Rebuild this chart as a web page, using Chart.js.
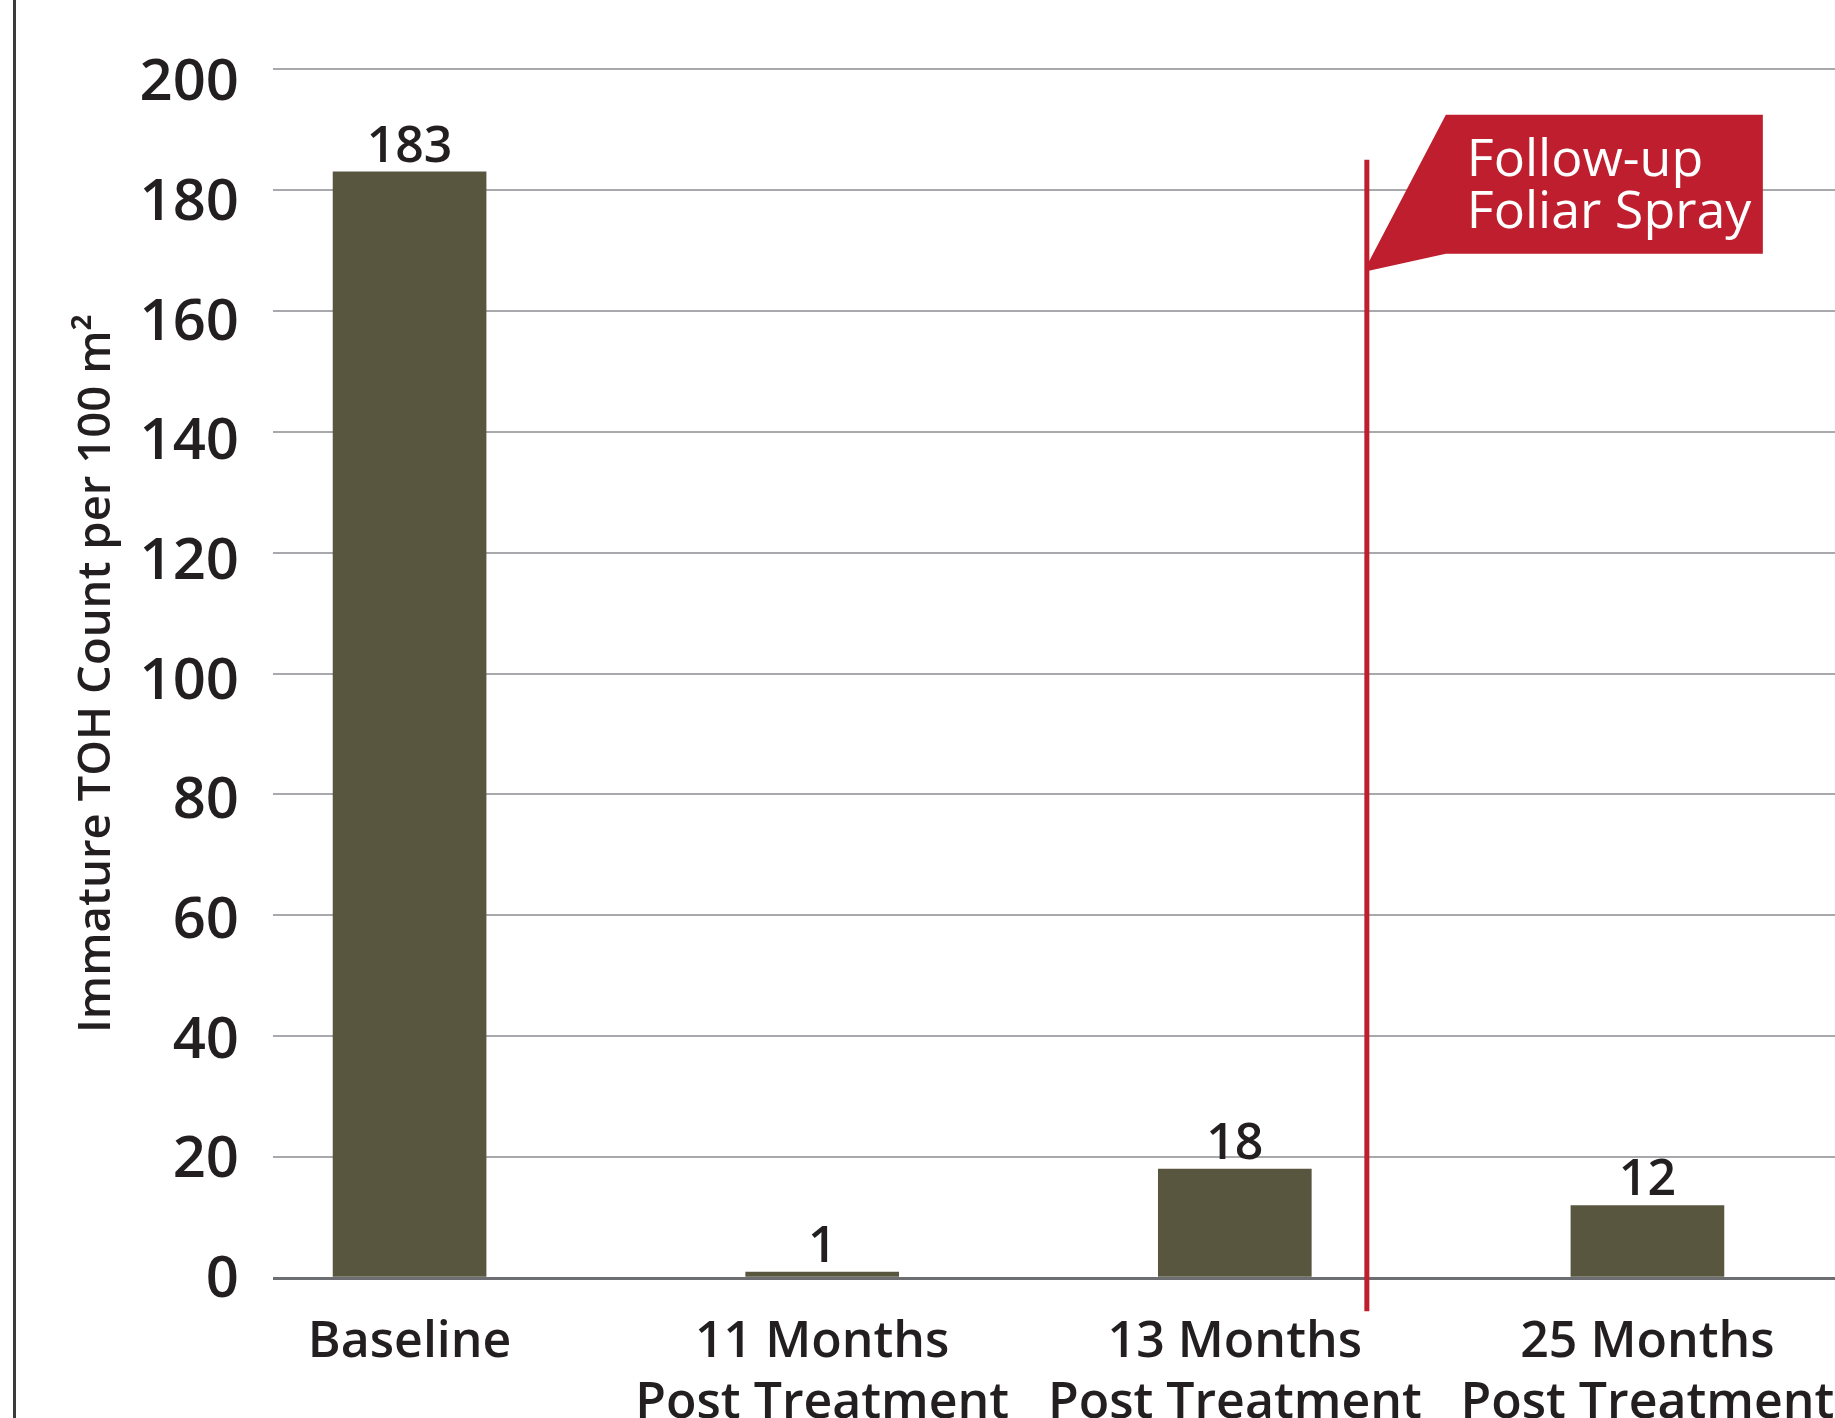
<!DOCTYPE html>
<html>
<head>
<meta charset="utf-8">
<title>Immature TOH Count</title>
<script src="https://cdn.jsdelivr.net/npm/chart.js@4.4.1/dist/chart.umd.min.js"></script>
<style>
  html, body { margin: 0; padding: 0; background: #ffffff; overflow: hidden; }
  canvas { display: block; }
</style>
</head>
<body>
<canvas id="chart" width="1835" height="1418"></canvas>
<script>
// ---- data ----
const categories = [
  ['Baseline'],
  ['11 Months', 'Post Treatment'],
  ['13 Months', 'Post Treatment'],
  ['25 Months', 'Post Treatment']
];
const counts = [183, 1, 18, 12];
const yTicks = [0, 20, 40, 60, 80, 100, 120, 140, 160, 180, 200];
const yTitle = 'Immature TOH Count per 100 m\u00B2';
const followUpText = ['Follow-up', 'Foliar Spray'];
// where the follow-up spray marker sits on the category index axis
const followUpAt = 2.32;
const followUpSpan = [-5.5, 185];

// ---- styles ----
const FONT = '"Open Sans", "Noto Sans", sans-serif';
const INK = '#231f20';
const BAR = '#59563f';
const RED = '#be1e2d';

const framePlugin = {
  id: 'frame',
  beforeDraw(chart) {
    const ctx = chart.ctx;
    ctx.save();
    ctx.fillStyle = '#3b3b3b';
    ctx.fillRect(13, 0, 3, chart.height);
    ctx.restore();
  }
};

const valueLabels = {
  id: 'valueLabels',
  afterDatasetsDraw(chart) {
    const ctx = chart.ctx;
    const meta = chart.getDatasetMeta(0);
    ctx.save();
    ctx.fillStyle = INK;
    ctx.font = '600 50px ' + FONT;
    ctx.textAlign = 'center';
    ctx.textBaseline = 'alphabetic';
    meta.data.forEach((bar, i) => {
      ctx.fillText(String(counts[i]), bar.x, bar.y - 10);
    });
    ctx.restore();
  }
};

const followUpMarker = {
  id: 'followUpMarker',
  afterDraw(chart) {
    const ctx = chart.ctx;
    const xs = chart.scales.x, ys = chart.scales.y;
    const x = xs.getPixelForValue(followUpAt);
    const top = ys.getPixelForValue(followUpSpan[1]);
    const bottom = ys.getPixelForValue(followUpSpan[0]);
    ctx.save();
    ctx.strokeStyle = RED;
    ctx.lineWidth = 5;
    ctx.beginPath();
    ctx.moveTo(x, top);
    ctx.lineTo(x, bottom);
    ctx.stroke();

    // pennant flag
    ctx.fillStyle = RED;
    ctx.beginPath();
    ctx.moveTo(x + 79, top - 45);
    ctx.lineTo(x + 396, top - 45);
    ctx.lineTo(x + 396, top + 94);
    ctx.lineTo(x + 79, top + 94);
    ctx.lineTo(x + 2, top + 111);
    ctx.lineTo(x + 2, top + 102);
    ctx.closePath();
    ctx.fill();

    ctx.fillStyle = '#ffffff';
    ctx.font = '500 52px ' + FONT;
    ctx.textAlign = 'left';
    ctx.textBaseline = 'alphabetic';
    ctx.fillText(followUpText[0], x + 100, top + 16);
    ctx.fillText(followUpText[1], x + 100, top + 68);
    ctx.restore();
  }
};

new Chart(document.getElementById('chart'), {
  type: 'bar',
  data: {
    datasets: [{
      data: counts.map((v, i) => ({ x: i, y: v })),
      backgroundColor: BAR,
      borderWidth: 0,
      barThickness: 153
    }]
  },
  options: {
    responsive: false,
    animation: false,
    events: [],
    layout: { padding: { top: 69, left: 0, right: 0, bottom: 0 } },
    plugins: {
      legend: { display: false },
      tooltip: { enabled: false }
    },
    scales: {
      x: {
        type: 'linear',
        offset: false,
        bounds: 'data',
        min: -0.331,
        max: 3.4546,
        grid: { display: false, offset: false, drawTicks: true, tickLength: 34 },
        border: { display: false },
        afterBuildTicks(scale) {
          scale.ticks = categories.map((_, i) => ({ value: i }));
        },
        afterFit(scale) {
          scale.height = 140;
          scale.paddingLeft = 0;
          scale.paddingRight = 0;
        },
        ticks: {
          autoSkip: false,
          maxRotation: 0,
          minRotation: 0,
          padding: 0,
          color: INK,
          font: { family: FONT, size: 50, weight: '600', lineHeight: 1.22 },
          callback: (value) => categories[value]
        }
      },
      // value axis: carries the bars and the grid
      y: {
        position: 'left',
        min: 0,
        max: 200,
        afterBuildTicks(scale) {
          scale.ticks = yTicks.map(v => ({ value: v }));
        },
        afterFit(scale) {
          scale.width = 0;
          scale.paddingTop = 0;
          scale.paddingBottom = 0;
        },
        grid: {
          drawTicks: false,
          color: (c) => (c.tick && c.tick.value === 0 ? '#6d6e71' : '#a7a9ac'),
          lineWidth: (c) => (c.tick && c.tick.value === 0 ? 3 : 2)
        },
        border: { display: false },
        ticks: { display: false }
      },
      // label axis: the tick numbers sit on a slightly tighter spacing than the grid
      yLabels: {
        position: 'left',
        min: -0.08,
        max: 202.0,
        afterBuildTicks(scale) {
          scale.ticks = yTicks.map(v => ({ value: v }));
        },
        afterFit(scale) {
          scale.width = 273;
          scale.paddingTop = 0;
          scale.paddingBottom = 0;
        },
        grid: { display: false, drawTicks: false },
        border: { display: false },
        ticks: {
          padding: 34,
          labelOffset: 3,
          color: INK,
          font: { family: FONT, size: 58, weight: '600' }
        },
        title: {
          display: true,
          text: yTitle,
          color: INK,
          font: { family: FONT, size: 45.5, weight: '600' },
          padding: { top: 70, bottom: 0 }
        }
      }
    }
  },
  plugins: [framePlugin, valueLabels, followUpMarker]
});
</script>
</body>
</html>
